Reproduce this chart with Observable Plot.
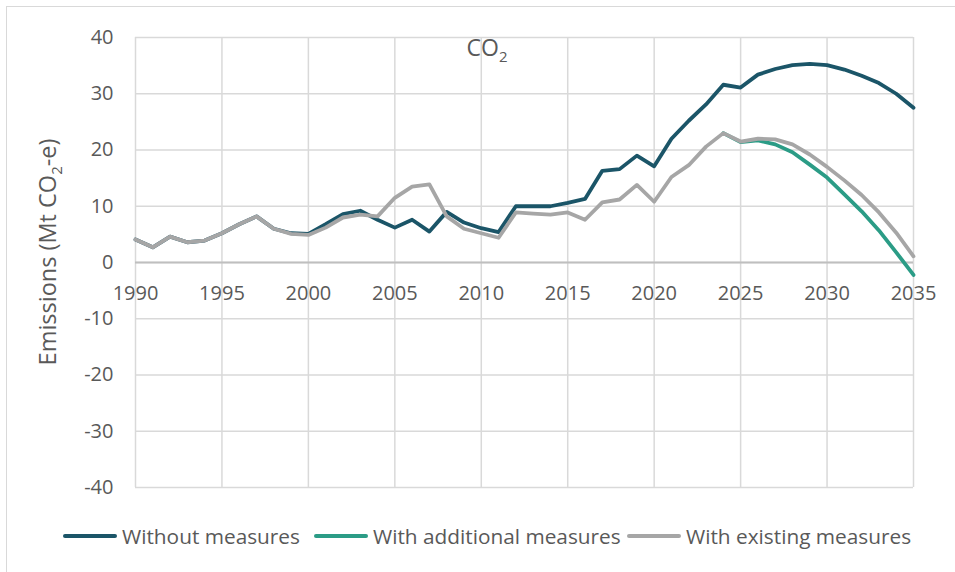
<!DOCTYPE html>
<html>
<head>
<meta charset="utf-8">
<script src="https://cdn.jsdelivr.net/npm/d3@7"></script>
<script src="https://cdn.jsdelivr.net/npm/@observablehq/plot@0.6"></script>
<style>
  html, body { margin: 0; padding: 0; background: #fff; }
  #wrap { position: relative; width: 955px; height: 572px; overflow: hidden; font-family: "Open Sans", sans-serif; }
  #border { position: absolute; left: 6px; top: 6px; width: 960px; height: 600px; border: 1.5px solid #d9d9d9; box-sizing: border-box; }
  #chart { position: absolute; left: 0; top: 0; }
  #legend { position: absolute; top: 522px; left: 0; width: 955px; height: 30px; color: #595959; font-size: 20.8px; }
  .item { position: absolute; top: 0; display: flex; align-items: center; white-space: nowrap; }
  .sw { display: inline-block; width: 54px; height: 4px; border-radius: 2px; margin-right: 5px; }
</style>
</head>
<body>
<div id="wrap">
  <div id="border"></div>
  <div id="chart"></div>
  <div id="legend"></div>
</div>
<script>
// ---- data ----
const years = [1990,1991,1992,1993,1994,1995,1996,1997,1998,1999,2000,2001,2002,2003,2004,2005,2006,2007,2008,2009,2010,2011,2012,2013,2014,2015,2016,2017,2018,2019,2020,2021,2022,2023,2024,2025,2026,2027,2028,2029,2030,2031,2032,2033,2034,2035];
const withoutMeasures = [4.1,2.7,4.6,3.6,3.9,5.2,6.8,8.2,6.0,5.2,5.1,6.8,8.6,9.2,7.6,6.2,7.6,5.5,9.0,7.1,6.1,5.4,10.0,10.0,10.0,10.6,11.3,16.3,16.6,19.0,17.1,22.0,25.2,28.1,31.6,31.1,33.4,34.4,35.1,35.3,35.1,34.3,33.2,31.9,30.0,27.5];
const withExisting = [4.1,2.7,4.6,3.6,3.9,5.2,6.8,8.2,6.0,5.1,4.9,6.2,8.0,8.5,8.2,11.5,13.5,13.9,8.2,6.0,5.2,4.4,8.9,8.7,8.5,8.9,7.6,10.7,11.2,13.8,10.8,15.2,17.3,20.6,23.0,21.5,22.0,21.9,21.0,19.2,17.0,14.6,12.0,8.9,5.3,1.1];
const additionalYears = [2024,2025,2026,2027,2028,2029,2030,2031,2032,2033,2034,2035];
const withAdditional = [23.0,21.4,21.7,21.0,19.6,17.4,15.1,12.1,9.1,5.7,1.8,-2.2];
const xTicks = [1990,1995,2000,2005,2010,2015,2020,2025,2030,2035];
const yTicks = [-40,-30,-20,-10,0,10,20,30,40];
const seriesNames = ["Without measures","With additional measures","With existing measures"];
const seriesColors = ["#1b5568","#2b9c86","#a6a6a6"];

const rows = [];
years.forEach((y,i) => rows.push({year:y, value:withoutMeasures[i], series:seriesNames[0]}));
additionalYears.forEach((y,i) => rows.push({year:y, value:withAdditional[i], series:seriesNames[1]}));
years.forEach((y,i) => rows.push({year:y, value:withExisting[i], series:seriesNames[2]}));

const textColor = "#595959";
const plot = Plot.plot({
  width: 955,
  height: 515,
  marginLeft: 135,
  marginRight: 42,
  marginTop: 37,
  marginBottom: 28,
  style: {fontFamily: "'Open Sans', sans-serif", fontSize: "20px", color: textColor, background: "transparent"},
  x: {domain: [1990, 2035]},
  y: {domain: [-40, 40]},
  color: {domain: seriesNames, range: seriesColors},
  marks: [
    Plot.gridX(xTicks, {stroke: "#d9d9d9", strokeOpacity: 1, strokeWidth: 1.5}),
    Plot.gridY(yTicks, {stroke: "#d9d9d9", strokeOpacity: 1, strokeWidth: 1.5}),
    Plot.ruleY([0], {stroke: "#bfbfbf", strokeWidth: 1.8}),
    Plot.axisY(yTicks, {tickSize: 0, tickPadding: 22, fontSize: 20, fill: textColor, label: null, tickFormat: d => String(d)}),
    Plot.axisX({ticks: [], label: null, tickSize: 0}),
    Plot.text(xTicks, {x: d => d, y: 0, dy: 31, text: d => String(d), fontSize: 20, fill: textColor}),
    Plot.line(rows, {x: "year", y: "value", z: "series", stroke: "series", strokeWidth: 3.8, strokeLinejoin: "round", strokeLinecap: "round"})
  ]
});
document.getElementById("chart").appendChild(plot);

// title and y label with subscripts
const svg = d3.select(plot);
const title = svg.append("text").attr("x", 487).attr("y", 56).attr("text-anchor", "middle")
  .attr("fill", textColor).attr("font-size", 23).attr("font-family", "'Open Sans', sans-serif");
title.append("tspan").text("CO");
title.append("tspan").attr("font-size", 15).attr("dy", 6).text("2");

const ylab = svg.append("text").attr("transform", "translate(56,252) rotate(-90)").attr("text-anchor", "middle")
  .attr("fill", textColor).attr("font-size", 23.5).attr("font-family", "'Open Sans', sans-serif");
ylab.append("tspan").text("Emissions (Mt CO");
ylab.append("tspan").attr("font-size", 15).attr("dy", 6).text("2");
ylab.append("tspan").attr("dy", -6).text("-e)");

// legend
const legendPos = [63, 314, 627];
const legend = d3.select("#legend");
seriesNames.forEach((name, i) => {
  const item = legend.append("div").attr("class", "item").style("left", legendPos[i] + "px");
  item.append("span").attr("class", "sw").style("background", seriesColors[i]);
  item.append("span").text(name);
});
</script>
</body>
</html>
